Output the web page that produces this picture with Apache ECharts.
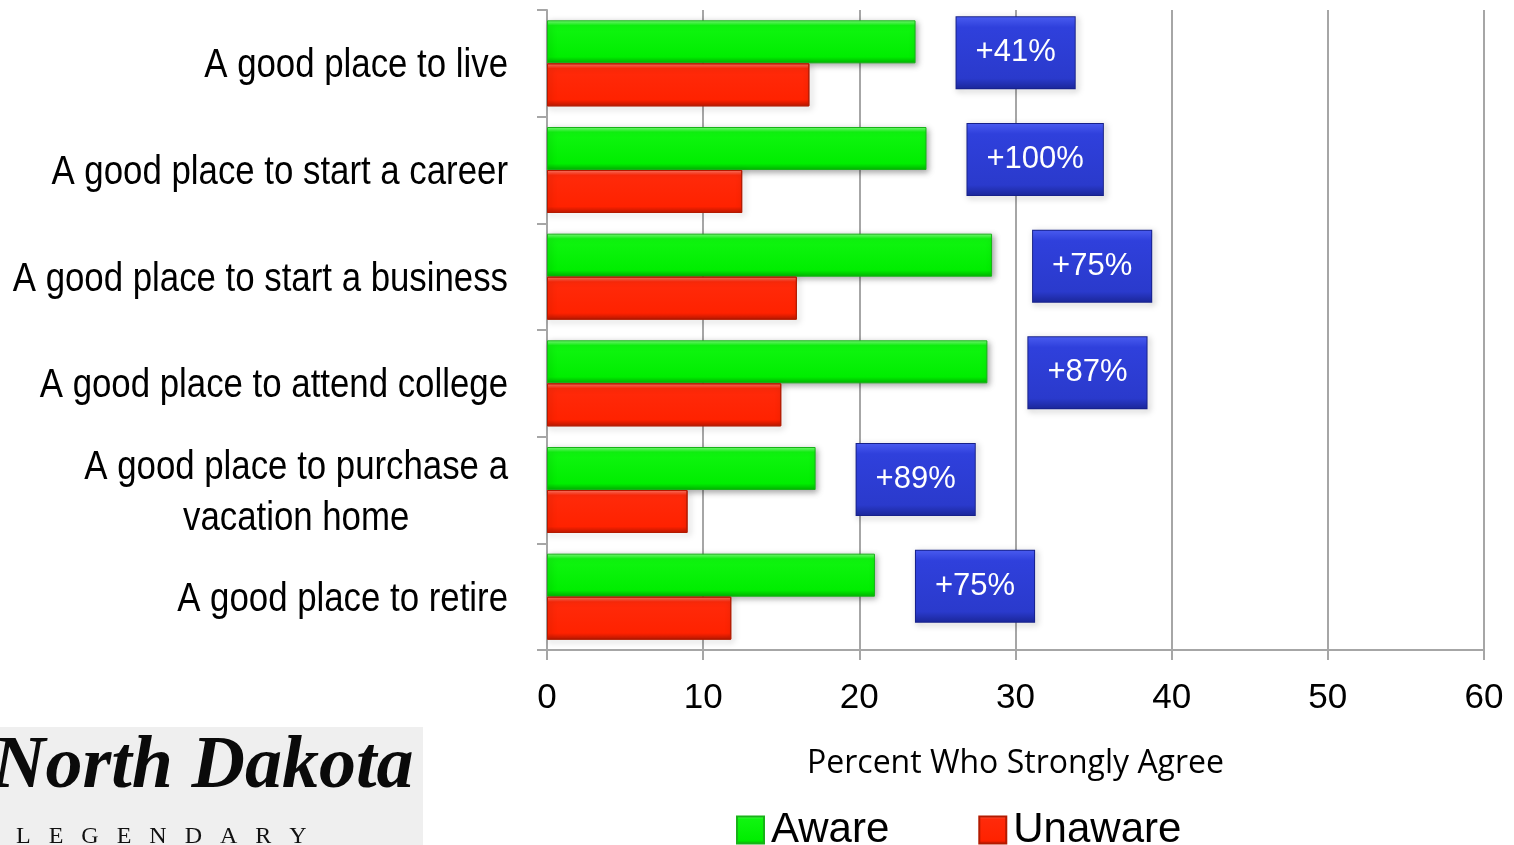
<!DOCTYPE html>
<html>
<head>
<meta charset="utf-8">
<title>Percent Who Strongly Agree</title>
<script src="https://cdn.jsdelivr.net/npm/echarts@6/dist/echarts.min.js"></script>
<style>
  html, body { margin: 0; padding: 0; background: #ffffff; }
  #chart { width: 1514px; height: 845px; }
</style>
</head>
<body>
<div id="chart"></div>
<script>
// Survey statements (top to bottom)
const categories = [
  'A good place to live',
  'A good place to start a career',
  'A good place to start a business',
  'A good place to attend college',
  'A good place to purchase a\nvacation home',
  'A good place to retire'
];
// Percent who strongly agree
const aware = [23.6, 24.3, 28.5, 28.2, 17.2, 21.0];
const unaware = [16.8, 12.5, 16.0, 15.0, 9.0, 11.8];
// Lift of aware over unaware
const lift = ['+41%', '+100%', '+75%', '+87%', '+89%', '+75%'];
// Value axis
const xMin = 0, xMax = 60, xStep = 10;

const G = echarts.graphic;
const greenFill = new G.LinearGradient(0, 0, 0, 1, [
  { offset: 0, color: '#7dff7d' },
  { offset: 0.12, color: '#10f510' },
  { offset: 0.85, color: '#00ee00' },
  { offset: 1, color: '#00b800' }
]);
const redFill = new G.LinearGradient(0, 0, 0, 1, [
  { offset: 0, color: '#ff7a6a' },
  { offset: 0.12, color: '#ff2a0a' },
  { offset: 0.85, color: '#ff2200' },
  { offset: 1, color: '#c01800' }
]);
const blueFill = new G.LinearGradient(0, 0, 0, 1, [
  { offset: 0, color: '#4a5cf0' },
  { offset: 0.15, color: '#2f40dc' },
  { offset: 0.85, color: '#2a3acc' },
  { offset: 1, color: '#1a2698' }
]);

// Category labels are drawn in a narrowed sans face
const CAT_FONT = '40px "Liberation Sans", Arial, sans-serif';
const CAT_SCALE = 0.87;
const CAT_LINE = 51;
const CAT_MARGIN = 39;
const CAT_DROP = 3;

const chart = echarts.init(document.getElementById('chart'), null, { renderer: 'canvas' });

chart.setOption({
  animation: false,
  backgroundColor: '#ffffff',
  grid: { left: 547, right: 30, top: 10, bottom: 195, containLabel: false, outerBoundsMode: 'none' },
  legend: {
    data: ['Aware', 'Unaware'],
    left: 736,
    top: 809,
    padding: 0,
    itemWidth: 27,
    itemHeight: 27,
    itemGap: 89,
    icon: 'rect',
    textStyle: { fontFamily: '"Liberation Sans", Arial, sans-serif', fontSize: 42, color: '#000', padding: [5, 0, 0, 2] }
  },
  xAxis: {
    type: 'value',
    min: xMin, max: xMax, interval: xStep,
    name: 'Percent Who Strongly Agree',
    nameLocation: 'middle',
    nameGap: 98,
    nameTextStyle: { fontFamily: '"Open Sans", Lato, sans-serif', fontSize: 32, color: '#000' },
    axisLine: { show: true, lineStyle: { color: '#a6a6a6', width: 2 } },
    axisTick: { show: true, length: 10, lineStyle: { color: '#a6a6a6', width: 2 } },
    axisLabel: { fontFamily: '"Liberation Sans", Arial, sans-serif', fontSize: 35, color: '#000', margin: 31 },
    splitLine: { show: true, lineStyle: { color: '#a6a6a6', width: 2 } }
  },
  yAxis: {
    type: 'category',
    data: categories,
    inverse: true,
    axisLine: { show: true, lineStyle: { color: '#a6a6a6', width: 2 } },
    axisTick: { show: true, length: 10, lineStyle: { color: '#a6a6a6', width: 2 } },
    axisLabel: { show: false },
    splitLine: { show: false }
  },
  series: [
    {
      name: 'Aware',
      type: 'bar',
      data: aware,
      barWidth: 43,
      barGap: '0%',
      itemStyle: {
        color: greenFill,
        borderColor: '#17b317',
        borderWidth: 1,
        shadowColor: 'rgba(0,0,0,0.35)',
        shadowBlur: 6,
        shadowOffsetX: 2,
        shadowOffsetY: 2
      },
      label: {
        show: true,
        position: 'right',
        distance: 41,
        offset: [0, 11],
        formatter: function (p) { return lift[p.dataIndex]; },
        color: '#ffffff',
        fontFamily: '"Liberation Sans", Arial, sans-serif',
        fontSize: 31,
        lineHeight: 31,
        padding: [20, 19],
        backgroundColor: blueFill,
        borderColor: '#16208a',
        borderWidth: 1,
        shadowColor: 'rgba(0,0,0,0.35)',
        shadowBlur: 6,
        shadowOffsetX: 2,
        shadowOffsetY: 2
      }
    },
    {
      name: 'Unaware',
      type: 'bar',
      data: unaware,
      barWidth: 43,
      barGap: '0%',
      itemStyle: {
        color: redFill,
        borderColor: '#b31a00',
        borderWidth: 1,
        shadowColor: 'rgba(0,0,0,0.35)',
        shadowBlur: 6,
        shadowOffsetX: 2,
        shadowOffsetY: 2
      }
    }
  ]
});

// Place the category labels against the axis positions
const measureCtx = document.createElement('canvas').getContext('2d');
measureCtx.font = CAT_FONT;
const axisX = chart.convertToPixel({ xAxisIndex: 0 }, xMin);
const labelRight = axisX - CAT_MARGIN;
const catTexts = categories.map(function (c) {
  const y = chart.convertToPixel({ yAxisIndex: 0 }, c);
  const lines = c.split('\n');
  const widest = Math.max.apply(null, lines.map(function (s) { return measureCtx.measureText(s).width; }));
  const multi = lines.length > 1;
  const cx = multi ? labelRight - widest * CAT_SCALE / 2 : labelRight;
  return {
    type: 'text',
    x: cx,
    y: y + CAT_DROP,
    scaleX: CAT_SCALE,
    style: {
      text: c,
      font: CAT_FONT,
      fill: '#000',
      align: multi ? 'center' : 'right',
      verticalAlign: 'middle',
      lineHeight: CAT_LINE
    }
  };
});

// Brand mark in the lower left corner
const brand = {
  type: 'group',
  x: 0,
  y: 727,
  children: [
    { type: 'rect', shape: { x: 0, y: 0, width: 423, height: 118 }, style: { fill: '#efefef' } },
    {
      type: 'text', x: -8, y: 4,
      style: {
        text: 'North Dakota',
        font: 'italic bold 74px "Liberation Serif", "DejaVu Serif", serif',
        fill: '#0a0a0a'
      }
    },
    {
      type: 'text', x: 16, y: 98,
      style: {
        text: 'L   E   G   E   N   D   A   R   Y',
        font: '24px "Liberation Serif", "DejaVu Serif", serif',
        fill: '#111'
      }
    }
  ]
};

chart.setOption({ graphic: catTexts.concat([brand]) });
</script>
</body>
</html>
